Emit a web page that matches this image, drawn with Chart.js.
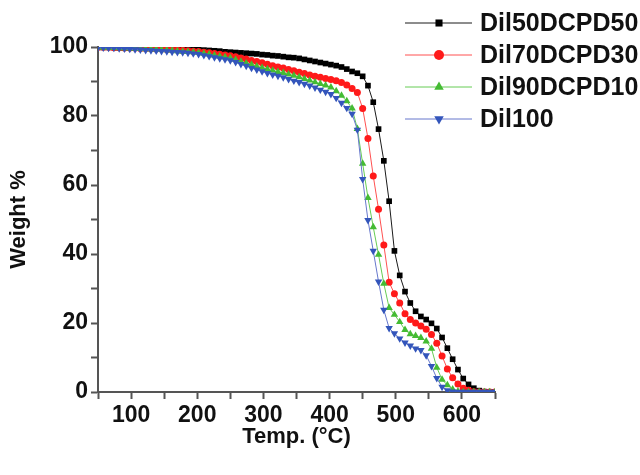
<!DOCTYPE html>
<html>
<head>
<meta charset="utf-8">
<script src="https://cdn.jsdelivr.net/npm/chart.js@4.4.1/dist/chart.umd.min.js"></script>
<style>
  html, body { margin: 0; padding: 0; background: #fff; }
  #wrap { width: 640px; height: 475px; }
</style>
</head>
<body>
<div id="wrap"><canvas id="tga" width="640" height="475"></canvas></div>
<script>
// temperature (°C)
const temps = [
  50, 58, 66, 74, 82, 90, 98, 106, 114, 122,
  130, 138, 146, 154, 162, 170, 178, 186, 194, 202,
  210, 218, 226, 234, 242, 250, 258, 266, 274, 282,
  290, 298, 306, 314, 322, 330, 338, 346, 354, 362,
  370, 378, 386, 394, 402, 410, 418, 426, 434, 442,
  450, 458, 466, 474, 482, 490, 498, 506, 514, 522,
  530, 538, 546, 554, 562, 570, 578, 586, 594, 602,
  610, 618, 626, 634, 642, 650
];

// weight % for each sample
const dil50 = [
  99.9, 99.9, 99.9, 99.9, 99.8, 99.8, 99.8, 99.8, 99.7, 99.7,
  99.7, 99.6, 99.6, 99.6, 99.5, 99.5, 99.4, 99.4, 99.3, 99.2,
  99.1, 99.0, 98.9, 98.8, 98.6, 98.5, 98.4, 98.3, 98.2, 98.1,
  98.0, 97.8, 97.7, 97.5, 97.4, 97.2, 97.0, 96.9, 96.7, 96.4,
  96.1, 95.8, 95.5, 95.2, 94.9, 94.6, 94.2, 93.6, 92.9, 92.4,
  91.5, 88.8, 84.0, 76.2, 67.0, 55.3, 40.9, 33.8, 29.1, 25.8,
  23.4, 21.9, 21.0, 19.9, 18.4, 15.8, 12.7, 9.5, 6.5, 3.9,
  2.2, 1.1, 0.4, 0.1, 0.0, 0.0
];
const dil70 = [
  99.9, 99.9, 99.9, 99.8, 99.8, 99.7, 99.7, 99.7, 99.6, 99.6,
  99.5, 99.4, 99.4, 99.3, 99.2, 99.1, 99.0, 98.9, 98.8, 98.7,
  98.5, 98.3, 98.1, 97.9, 97.7, 97.5, 97.2, 96.8, 96.5, 96.1,
  95.8, 95.4, 95.0, 94.6, 94.2, 93.9, 93.5, 93.1, 92.7, 92.3,
  91.9, 91.5, 91.2, 90.9, 90.6, 90.2, 89.7, 89.0, 88.0, 86.8,
  82.2, 73.5, 62.6, 53.0, 42.6, 31.8, 28.5, 25.8, 22.7, 21.0,
  20.0, 19.1, 18.2, 16.7, 14.1, 10.4, 6.7, 4.1, 2.3, 1.1,
  0.5, 0.1, 0.0, 0.0, 0.0, 0.0
];
const dil90 = [
  99.9, 99.9, 99.8, 99.8, 99.7, 99.7, 99.6, 99.6, 99.5, 99.4,
  99.4, 99.3, 99.2, 99.1, 99.0, 98.8, 98.7, 98.6, 98.5, 98.3,
  98.1, 97.9, 97.6, 97.3, 97.1, 96.8, 96.3, 95.8, 95.3, 94.9,
  94.4, 94.0, 93.6, 93.2, 92.8, 92.5, 92.1, 91.7, 91.3, 90.8,
  90.3, 89.8, 89.3, 88.9, 88.3, 87.2, 85.9, 84.3, 82.2, 76.3,
  66.2, 56.3, 47.8, 39.8, 31.4, 24.4, 22.4, 20.3, 18.0, 16.8,
  16.3, 15.7, 14.7, 12.6, 7.1, 3.6, 2.0, 0.8, 0.2, 0.0,
  0.0, 0.0, 0.0, 0.0, 0.0, 0.0
];
const dil100 = [
  99.8, 99.8, 99.7, 99.7, 99.6, 99.5, 99.4, 99.3, 99.2, 99.1,
  99.0, 98.9, 98.8, 98.7, 98.6, 98.5, 98.4, 98.3, 98.1, 97.9,
  97.6, 97.3, 97.0, 96.7, 96.4, 96.1, 95.6, 95.0, 94.5, 93.9,
  93.4, 92.9, 92.4, 92.0, 91.6, 91.2, 90.7, 90.2, 89.8, 89.3,
  88.8, 88.2, 87.6, 87.0, 86.3, 85.2, 83.8, 82.3, 80.6, 76.0,
  61.7, 49.8, 40.9, 32.0, 23.8, 18.5, 17.0, 15.5, 14.3, 13.4,
  12.6, 12.1, 10.6, 7.5, 4.0, 1.5, 0.5, 0.1, 0.0, 0.0,
  0.0, 0.0, 0.0, 0.0, 0.0, 0.0
];

const seriesNames = ['Dil50DCPD50', 'Dil70DCPD30', 'Dil90DCPD10', 'Dil100'];
const xTickLabels = [100, 200, 300, 400, 500, 600];
const yTickLabels = [0, 20, 40, 60, 80, 100];

const FONT = '"Liberation Sans", Arial, Helvetica, sans-serif';

const toPoints = vals => vals.map((v, i) => ({ x: temps[i], y: v }));

const makeSet = (label, vals, lineColor, markColor, style, rot, radius, order) => ({
  label,
  data: toPoints(vals),
  borderColor: lineColor,
  borderWidth: 1,
  backgroundColor: markColor,
  pointBackgroundColor: markColor,
  pointBorderColor: markColor,
  pointBorderWidth: 0,
  pointStyle: style,
  pointRotation: rot,
  pointRadius: radius,
  tension: 0,
  order
});

const datasets = [
  makeSet(seriesNames[0], dil50, '#1a1a1a', '#000000', 'rect', 0, 4, 3),
  makeSet(seriesNames[1], dil70, '#ff5050', '#ff1a1a', 'circle', 0, 3.5, 2),
  makeSet(seriesNames[2], dil90, '#66cc55', '#44bb33', 'triangle', 0, 4.3, 1),
  makeSet(seriesNames[3], dil100, '#6677cc', '#3355bb', 'triangle', 180, 4.3, 0)
];

// legend drawn at the top right, overlapping the plot like the original
const sideLegend = {
  id: 'sideLegend',
  afterDraw(chart) {
    const ctx = chart.ctx;
    ctx.save();
    datasets.forEach((ds, i) => {
      const y = 23 + i * 32;
      ctx.strokeStyle = ds.borderColor;
      ctx.lineWidth = 1;
      ctx.beginPath();
      ctx.moveTo(405, y);
      ctx.lineTo(472, y);
      ctx.stroke();
      ctx.fillStyle = ds.pointBackgroundColor;
      ctx.strokeStyle = ds.pointBackgroundColor;
      Chart.helpers.drawPoint(ctx, {
        pointStyle: ds.pointStyle,
        rotation: ds.pointRotation,
        radius: ds.pointStyle === 'triangle' ? 5.5 : 5,
        borderWidth: 0
      }, 439, y);
      ctx.fillStyle = '#111';
      ctx.font = 'bold 25px ' + FONT;
      ctx.textAlign = 'left';
      ctx.textBaseline = 'middle';
      ctx.fillText(ds.label, 480, y + 1);
    });
    ctx.restore();
  }
};

new Chart(document.getElementById('tga'), {
  type: 'line',
  data: { datasets },
  options: {
    responsive: false,
    animation: false,
    layout: { padding: { left: 0, right: 145, top: 47, bottom: 0 } },
    plugins: { legend: { display: false }, tooltip: { enabled: false } },
    scales: {
      x: {
        type: 'linear',
        min: 50,
        max: 650,
        afterFit: s => { s.height = 83; },
        border: { color: '#555', width: 2 },
        grid: { drawOnChartArea: false, drawTicks: true, tickLength: 7, tickColor: '#555', tickWidth: 2 },
        ticks: {
          stepSize: 50,
          autoSkip: false,
          maxRotation: 0,
          padding: 3,
          color: '#111',
          font: { family: FONT, size: 23, weight: 'bold' },
          callback: v => xTickLabels.includes(v) ? String(v) : ''
        },
        title: {
          display: true,
          text: 'Temp. (°C)',
          color: '#111',
          font: { family: FONT, size: 22, weight: 'bold' },
          padding: { top: 0, bottom: 25 }
        }
      },
      y: {
        min: 0,
        max: 100,
        afterFit: s => { s.width = 98; },
        border: { color: '#555', width: 2 },
        grid: { drawOnChartArea: false, drawTicks: true, tickLength: 7, tickColor: '#555', tickWidth: 2 },
        ticks: {
          stepSize: 10,
          autoSkip: false,
          padding: 3,
          color: '#111',
          font: { family: FONT, size: 23, weight: 'bold' },
          callback: v => yTickLabels.includes(v) ? String(v) : ''
        },
        title: {
          display: true,
          text: 'Weight %',
          color: '#111',
          font: { family: FONT, size: 22, weight: 'bold' },
          padding: { top: 6, bottom: 0 }
        }
      }
    }
  },
  plugins: [sideLegend]
});
</script>
</body>
</html>
